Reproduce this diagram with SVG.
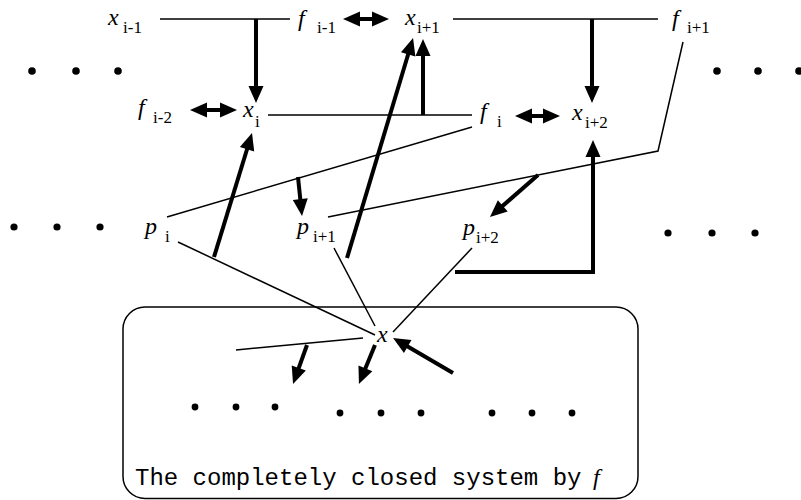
<svg xmlns="http://www.w3.org/2000/svg" width="801" height="500" viewBox="0 0 801 500">
<style>
.v{font-family:"Liberation Serif","Times New Roman",serif;font-style:italic;font-size:24px;fill:#000}
.s{font-family:"Liberation Serif","Times New Roman",serif;font-size:17px;fill:#000}
.m{font-family:"Liberation Mono","Courier New",monospace;font-size:24px;fill:#000}
.thin{stroke:#000;stroke-width:1.5;fill:none}
.thick{stroke:#000;stroke-width:4;fill:none;marker-end:url(#ah)}
.dbl{stroke:#000;stroke-width:4;fill:none;marker-end:url(#ah);marker-start:url(#ahs)}
.dot{fill:#000}
</style>
<defs>
<marker id="ah" markerUnits="userSpaceOnUse" markerWidth="17" markerHeight="15" refX="5" refY="7.5" orient="auto" overflow="visible">
<path d="M0,0 L17,7.5 L0,15 z" fill="#000"/>
</marker>
<marker id="ahs" markerUnits="userSpaceOnUse" markerWidth="17" markerHeight="15" refX="5" refY="7.5" orient="auto-start-reverse" overflow="visible">
<path d="M0,0 L17,7.5 L0,15 z" fill="#000"/>
</marker>
</defs>
<rect x="0" y="0" width="801" height="500" fill="#fff"/>

<g id="connectors">
<line class="thin" x1="160" y1="19" x2="290" y2="19"/>
<line class="thin" x1="453" y1="19" x2="658" y2="19"/>
<line class="thin" x1="268" y1="115" x2="472" y2="115"/>
<line class="thin" x1="472" y1="127" x2="167" y2="217"/>
<polyline class="thin" points="683,42 658,151 328,217"/>
<line class="thin" x1="178" y1="242" x2="375" y2="335"/>
<line class="thin" x1="334" y1="248" x2="375" y2="326"/>
<line class="thin" x1="472" y1="248" x2="393" y2="332"/>
<line class="thin" x1="363" y1="338" x2="236" y2="350"/>

<line class="thick" x1="256" y1="19" x2="256" y2="91"/>
<line class="thick" x1="592" y1="19" x2="592" y2="91"/>
<line class="thick" x1="423" y1="115" x2="423" y2="51"/>
<line class="thick" x1="347" y1="258" x2="409.6" y2="49.5"/>
<line class="thick" x1="214" y1="257" x2="248.5" y2="144.5"/>
<polyline class="thick" points="455,272 593,272 593,152"/>
<line class="thick" x1="538" y1="175" x2="499" y2="209.1"/>
<line class="thick" x1="298" y1="177" x2="300.8" y2="204.1"/>
<line class="thick" x1="307" y1="345" x2="297.1" y2="372.7"/>
<line class="thick" x1="375" y1="345" x2="363.5" y2="372.9"/>
<line class="thick" x1="453" y1="373" x2="403.4" y2="344"/>

<line class="dbl" x1="355" y1="19" x2="377" y2="19"/>
<line class="dbl" x1="202" y1="110" x2="225" y2="110"/>
<line class="dbl" x1="527" y1="116" x2="548" y2="116"/>
</g>

<g id="x_im1"><text class="v" x="108" y="25">x</text><text class="s" x="123" y="33">i-1</text></g>
<g id="f_im1"><text class="v" x="298" y="26">f</text><text class="s" x="317" y="33">i-1</text></g>
<g id="x_ip1"><text class="v" x="405" y="25">x</text><text class="s" x="417" y="33">i+1</text></g>
<g id="f_ip1"><text class="v" x="672" y="26">f</text><text class="s" x="687" y="33">i+1</text></g>

<g id="f_im2"><text class="v" x="138" y="115">f</text><text class="s" x="153" y="123">i-2</text></g>
<g id="x_i"><text class="v" x="243" y="117">x</text><text class="s" x="255" y="127">i</text></g>
<g id="f_i"><text class="v" x="480" y="119">f</text><text class="s" x="497" y="127">i</text></g>
<g id="x_ip2"><text class="v" x="572" y="120">x</text><text class="s" x="585" y="128">i+2</text></g>

<g id="p_i"><text class="v" x="145" y="234">p</text><text class="s" x="165" y="242">i</text></g>
<g id="p_ip1"><text class="v" x="297" y="234">p</text><text class="s" x="313" y="242">i+1</text></g>
<g id="p_ip2"><text class="v" x="463" y="235">p</text><text class="s" x="476" y="243">i+2</text></g>

<g id="x"><text class="v" x="377" y="342">x</text></g>

<g id="dots">
<circle class="dot" cx="32" cy="71" r="3.8"/><circle class="dot" cx="76" cy="71" r="3.8"/><circle class="dot" cx="118" cy="71" r="3.8"/>
<circle class="dot" cx="717" cy="71" r="3.8"/><circle class="dot" cx="758" cy="71" r="3.8"/><circle class="dot" cx="799" cy="71" r="3.8"/>
<circle class="dot" cx="14" cy="227" r="3.6"/><circle class="dot" cx="57" cy="227" r="3.6"/><circle class="dot" cx="100" cy="227" r="3.6"/>
<circle class="dot" cx="668" cy="233" r="3.6"/><circle class="dot" cx="712" cy="233" r="3.6"/><circle class="dot" cx="755" cy="233" r="3.6"/>
</g>

<g id="closed-system">
<rect class="thin" x="123" y="307" width="515" height="191.5" rx="22" ry="22"/>
<circle class="dot" cx="195" cy="407" r="3.4"/><circle class="dot" cx="236" cy="407" r="3.4"/><circle class="dot" cx="275" cy="407" r="3.4"/>
<circle class="dot" cx="340" cy="413" r="3.4"/><circle class="dot" cx="381" cy="413" r="3.4"/><circle class="dot" cx="421" cy="413" r="3.4"/>
<circle class="dot" cx="492" cy="413" r="3.4"/><circle class="dot" cx="532" cy="413" r="3.4"/><circle class="dot" cx="572" cy="413" r="3.4"/>
<text class="m" x="135" y="485">The completely closed system by</text>
<text class="v" x="593" y="485">f</text>
</g>
</svg>
